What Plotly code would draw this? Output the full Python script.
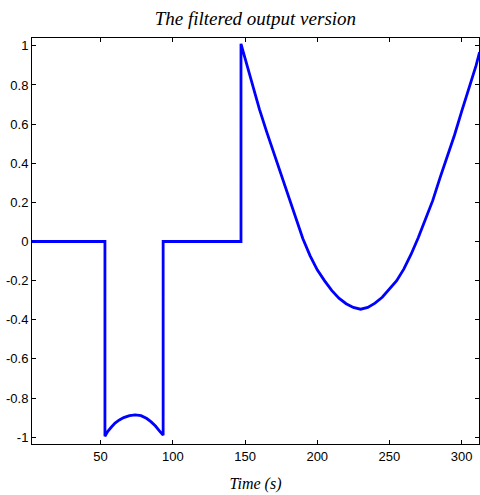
import plotly.graph_objects as go

# Signal (time in s, filtered output)
time_s = [2.5, 53.0, 53.0, 55.0, 57.5, 60.0, 63.0, 66.0, 70.0, 74.0, 78.0, 82.0, 85.0, 88.0, 91.0, 93.3, 93.3,
          147.2, 147.2, 150.0, 155.0, 160.0, 165.0, 170.0, 175.0, 180.0, 185.0, 190.0,
          195.0, 200.0, 205.0, 210.0, 215.0, 220.0, 225.0, 230.0, 235.0, 240.0, 245.0,
          250.0, 255.0, 260.0, 265.0, 270.0, 275.0, 280.0, 285.0, 290.0, 295.0, 300.0,
          305.0, 310.0, 312.4]
output = [0.0, 0.0, -0.995, -0.97, -0.948, -0.928, -0.912, -0.9, -0.89, -0.886, -0.89, -0.905, -0.922, -0.943, -0.97, -0.99, 0.0,
          0.0, 1.01, 0.935, 0.81, 0.675, 0.56, 0.452, 0.34, 0.23, 0.122, 0.015,
          -0.072, -0.145, -0.2, -0.25, -0.29, -0.318, -0.337, -0.346, -0.337, -0.315, -0.285,
          -0.245, -0.2, -0.14, -0.065, 0.02, 0.11, 0.21, 0.325, 0.43, 0.543, 0.665,
          0.78, 0.9, 0.968]

x_ticks = [50, 100, 150, 200, 250, 300]
y_ticks = [-1, -0.8, -0.6, -0.4, -0.2, 0, 0.2, 0.4, 0.6, 0.8, 1]
y_tick_labels = ["-1", "-0.8", "-0.6", "-0.4", "-0.2", "0", "0.2", "0.4", "0.6", "0.8", "1"]

fig = go.Figure()
fig.add_trace(go.Scatter(x=time_s, y=output, mode="lines",
                         line=dict(color="#0000ff", width=2.8),
                         showlegend=False))

axis_common = dict(showgrid=False, zeroline=False, showline=True, linecolor="black",
                   linewidth=1, mirror="ticks", ticks="inside", ticklen=4,
                   tickcolor="black", tickwidth=1,
                   tickfont=dict(family="Liberation Sans, Arial", size=13, color="black"))

fig.update_layout(
    width=480, height=495,
    margin=dict(l=32, r=1, t=38, b=51),
    paper_bgcolor="white", plot_bgcolor="white",
    title=dict(text="<i>The filtered output version</i>", x=0.532, xanchor="center",
               y=0.962, yanchor="middle",
               font=dict(family="Liberation Serif, Times New Roman", size=19, color="black")),
    xaxis=dict(range=[2.5, 312], tickvals=x_ticks,
               title=dict(text="<i>Time (s)</i>", standoff=15,
                          font=dict(family="Liberation Serif, Times New Roman", size=16, color="black")),
               **axis_common),
    yaxis=dict(range=[-1.035, 1.04], tickvals=y_ticks, ticktext=y_tick_labels, **axis_common),
)

fig.write_html("out.html")
